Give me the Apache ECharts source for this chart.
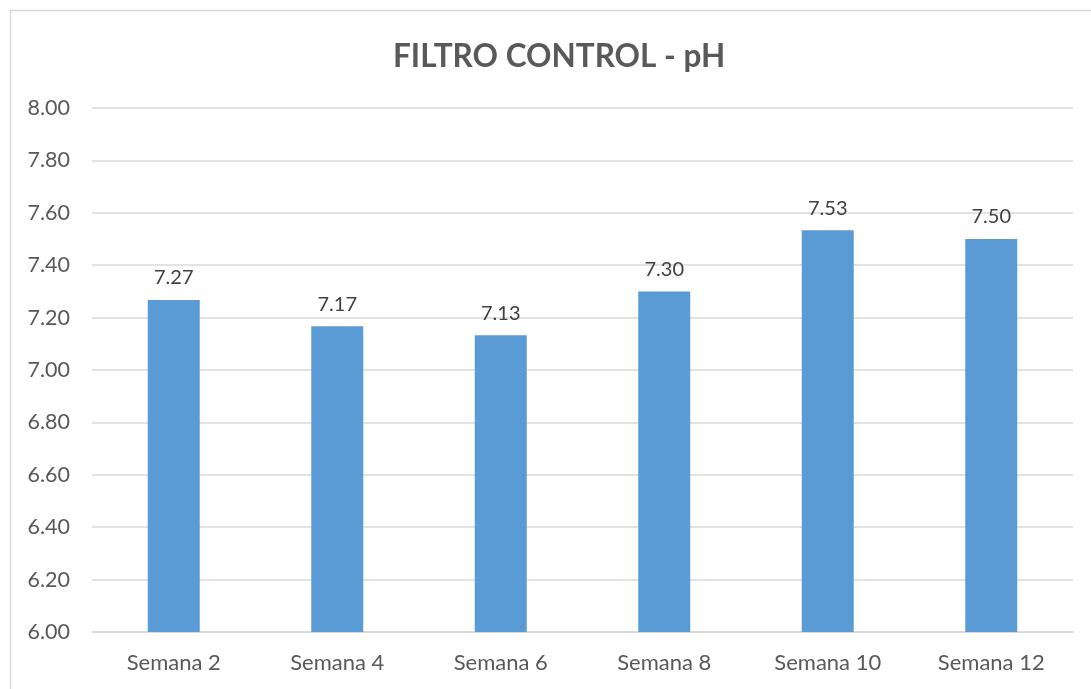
<!DOCTYPE html>
<html><head><meta charset="utf-8">
<script src="https://cdn.jsdelivr.net/npm/echarts@6/dist/echarts.min.js"></script>
<style>html,body{margin:0;padding:0;background:#fff}#c{width:1091px;height:689px}</style>
</head><body><div id="c"></div>
<script>
const categories = ['Semana 2','Semana 4','Semana 6','Semana 8','Semana 10','Semana 12'];
const phValues = [7.267, 7.167, 7.133, 7.30, 7.533, 7.50];
const yMin = 6.0, yMax = 8.0, yStep = 0.2;
const chart = echarts.init(document.getElementById('c'));
const font = 'Lato, "Open Sans", sans-serif';
chart.setOption({
  animation: false,
  graphic: [{type:'rect', shape:{x:10.5,y:10.5,width:1200,height:800}, style:{fill:'none',stroke:'#d9d9d9',lineWidth:1.5}, silent:true}],
  title: {text:'FILTRO CONTROL - pH', left:388, top:36,
    textStyle:{fontFamily:font, fontWeight:'bold', fontSize:31.5, color:'#595959'}},
  grid: {left:92, right:18, top:108, bottom:57},
  xAxis: {type:'category', data:categories,
    axisLine:{show:true, lineStyle:{color:'#d9d9d9', width:1.5}},
    axisTick:{show:false},
    axisLabel:{fontFamily:font, fontSize:22, color:'#595959', margin:20}},
  yAxis: {type:'value', min:yMin, max:yMax, interval:yStep,
    axisLine:{show:false}, axisTick:{show:false},
    splitLine:{lineStyle:{color:'#d9d9d9', width:1.5}},
    axisLabel:{fontFamily:font, fontSize:21.5, color:'#595959', margin:22,
      formatter: v => v.toFixed(2)}},
  series: [{type:'bar', data:phValues, barWidth:52,
    itemStyle:{color:'#5B9BD5'},
    label:{show:true, position:'top', distance:12, fontFamily:font, fontSize:20, color:'#404040',
      formatter: p => p.value.toFixed(2)}}]
});
</script></body></html>
